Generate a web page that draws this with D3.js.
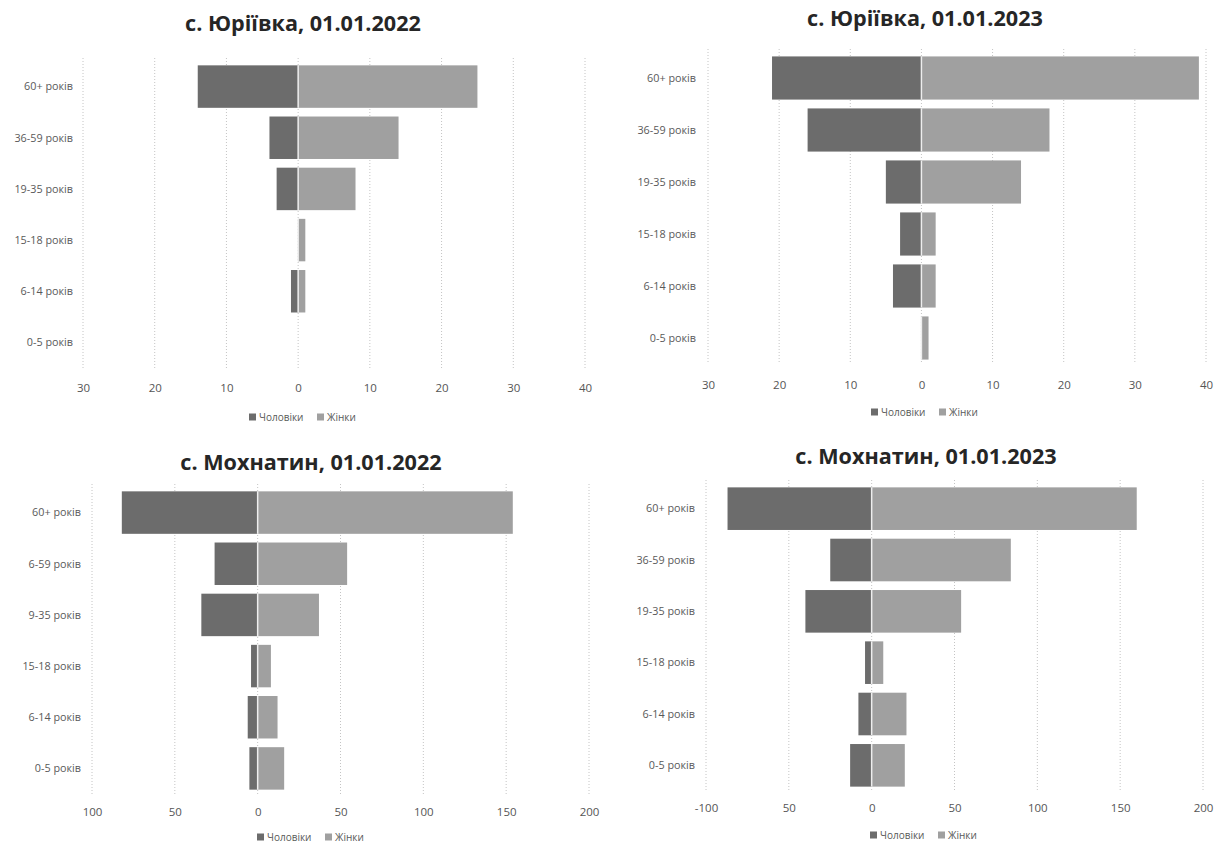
<!DOCTYPE html>
<html>
<head>
<meta charset="utf-8">
<script src="https://cdn.jsdelivr.net/npm/d3@7"></script>
<style>
  html, body { margin: 0; padding: 0; background: #fff; }
  svg { display: block; }
  .title { font-family: "Open Sans", Lato, sans-serif; font-weight: bold; fill: #262626; }
  .cat, .leg { font-family: "Open Sans", Lato, sans-serif; fill: #595959; }
</style>
</head>
<body>
<svg id="chart" width="1226" height="847"></svg>
<script>
// ---- data ----
const categoriesA = ["60+ років", "36-59 років", "19-35 років", "15-18 років", "6-14 років", "0-5 років"];
const categoriesC = ["60+ років", "6-59 років", "9-35 років", "15-18 років", "6-14 років", "0-5 років"];
const seriesNames = ["Чоловіки", "Жінки"];

const titles = ["с. Юріївка, 01.01.2022", "с. Юріївка, 01.01.2023", "с. Мохнатин, 01.01.2022", "с. Мохнатин, 01.01.2023"];

const yur2022Men   = [14, 4, 3, 0, 1, 0];
const yur2022Women = [25, 14, 8, 1, 1, 0];
const yur2023Men   = [21, 16, 5, 3, 4, 0];
const yur2023Women = [39, 18, 14, 2, 2, 1];
const mokh2022Men   = [82, 26, 34, 4, 6, 5];
const mokh2022Women = [154, 54, 37, 8, 12, 16];
const mokh2023Men   = [87, 25, 40, 4, 8, 13];
const mokh2023Women = [160, 84, 54, 7, 21, 20];

const ticksYur = [-30, -20, -10, 0, 10, 20, 30, 40];
const tickLabelsYur = ["30", "20", "10", "0", "10", "20", "30", "40"];
const ticksMokh = [-100, -50, 0, 50, 100, 150, 200];
const tickLabelsMokh2022 = ["100", "50", "0", "50", "100", "150", "200"];
const tickLabelsMokh2023 = ["-100", "50", "0", "50", "100", "150", "200"];

// ---- layout ----
const panels = [
  { title: titles[0], cats: categoriesA, men: yur2022Men, women: yur2022Women, ticks: ticksYur, tickLabels: tickLabelsYur,
    x0: 83, x1: 585, top: 61, bottom: 368, labelX: 73, tickY: 388, legendX: 309, legendY: 417, titleX: 303, titleY: 31 },
  { title: titles[1], cats: categoriesA, men: yur2023Men, women: yur2023Women, ticks: ticksYur, tickLabels: tickLabelsYur,
    x0: 708, x1: 1206, top: 52, bottom: 364, labelX: 696, tickY: 385, legendX: 931, legendY: 412, titleX: 925, titleY: 26 },
  { title: titles[2], cats: categoriesC, men: mokh2022Men, women: mokh2022Women, ticks: ticksMokh, tickLabels: tickLabelsMokh2022,
    x0: 92, x1: 589, top: 487, bottom: 794, labelX: 81, tickY: 812, legendX: 317, legendY: 837, titleX: 311, titleY: 470 },
  { title: titles[3], cats: categoriesA, men: mokh2023Men, women: mokh2023Women, ticks: ticksMokh, tickLabels: tickLabelsMokh2023,
    x0: 706, x1: 1203, top: 483, bottom: 791, labelX: 695, tickY: 808, legendX: 930, legendY: 835, titleX: 926, titleY: 464 }
];

const menColor = "#6c6c6c";
const womenColor = "#a0a0a0";
const titleTargetWidth = 236; // width of first title in the reference

const svg = d3.select("#chart");

// work out title size from the first title
const probe = svg.append("text").attr("class", "title").attr("font-size", 20).text(titles[0]);
const titleSize = 20 * titleTargetWidth / probe.node().getComputedTextLength();
probe.remove();

panels.forEach(p => {
  const g = svg.append("g");
  const dom = [p.ticks[0], p.ticks[p.ticks.length - 1]];
  const x = d3.scaleLinear().domain(dom).range([p.x0, p.x1]);
  const y = d3.scaleBand().domain(p.cats).range([p.top, p.bottom]).paddingInner(0.17).paddingOuter(0.085);

  // title
  g.append("text").attr("class", "title").attr("x", p.titleX).attr("y", p.titleY)
    .attr("text-anchor", "middle").attr("font-size", titleSize).text(p.title);

  // gridlines
  g.selectAll(".grid").data(p.ticks).join("line")
    .attr("x1", d => x(d)).attr("x2", d => x(d))
    .attr("y1", p.top - 3).attr("y2", p.bottom)
    .attr("stroke", "#c4c4c4").attr("stroke-width", 1).attr("stroke-dasharray", "1,2");

  // x axis labels
  const axis = d3.axisBottom(x).tickValues(p.ticks).tickSize(0)
    .tickFormat((d, i) => p.tickLabels[i]);
  const ax = g.append("g").attr("transform", `translate(0,${p.tickY})`).call(axis);
  ax.select(".domain").remove();
  ax.selectAll("text").attr("font-size", 11.5).attr("fill", "#555").attr("y", 0).attr("dy", "0.35em")
    .attr("font-family", "\"Open Sans\", Lato, sans-serif");

  // category labels
  g.selectAll(".cat").data(p.cats).join("text").attr("class", "cat")
    .attr("x", p.labelX).attr("y", d => y(d) + y.bandwidth() / 2)
    .attr("dy", "0.35em").attr("text-anchor", "end").attr("font-size", 10.8).text(d => d);

  // bars
  g.selectAll(".men").data(p.men).join("rect")
    .attr("x", d => x(-d)).attr("width", d => x(0) - x(-d))
    .attr("y", (d, i) => y(p.cats[i])).attr("height", y.bandwidth())
    .attr("fill", menColor);
  g.selectAll(".women").data(p.women).join("rect")
    .attr("x", x(0)).attr("width", d => x(d) - x(0))
    .attr("y", (d, i) => y(p.cats[i])).attr("height", y.bandwidth())
    .attr("fill", womenColor);
  // light separator at zero
  g.selectAll(".sep").data(p.cats.filter((c, i) => p.men[i] > 0 || p.women[i] > 0)).join("line")
    .attr("x1", x(0)).attr("x2", x(0))
    .attr("y1", d => y(d)).attr("y2", d => y(d) + y.bandwidth())
    .attr("stroke", "#eeeeee").attr("stroke-width", 1.5);

  // legend
  const lg = g.append("g").attr("transform", `translate(${p.legendX},${p.legendY})`);
  const items = [{ n: seriesNames[0], c: menColor, dx: -60 }, { n: seriesNames[1], c: womenColor, dx: 8 }];
  items.forEach(it => {
    lg.append("rect").attr("x", it.dx).attr("y", -3.5).attr("width", 7).attr("height", 7).attr("fill", it.c);
    lg.append("text").attr("class", "leg").attr("x", it.dx + 10).attr("y", 0).attr("dy", "0.35em")
      .attr("font-size", 10).text(it.n);
  });
});
</script>
</body>
</html>
